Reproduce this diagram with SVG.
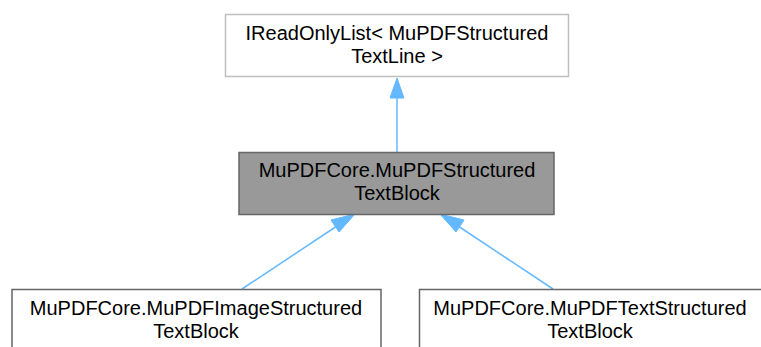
<svg xmlns="http://www.w3.org/2000/svg" width="761" height="347" viewBox="0 0 761 347">
<style>
text{font-family:"Liberation Sans",Arial,sans-serif;font-size:20px;fill:#000;text-anchor:middle}
.n rect{stroke-width:1.5}
.edge{stroke:#63b8ff;stroke-width:1.5;fill:none}
.head{fill:#63b8ff;stroke:#63b8ff;stroke-width:1}
</style>
<rect width="761" height="347" fill="#fff"/>
<g id="edges">
<path class="edge" d="M397,152 L397,96"/>
<path class="head" d="M397,78 L390,98 L404,98 Z"/>
<path class="edge" d="M242,289 L340,224"/>
<path class="head" d="M355,214 L331,220 L339,232 Z"/>
<path class="edge" d="M553,289 L455,224"/>
<path class="head" d="M440,214 L464,220 L456,232 Z"/>
</g>
<g id="node-ireadonlylist" class="n">
<rect x="225.5" y="14.5" width="343" height="62" fill="#fff" stroke="#bfbfbf"/>
<text x="397" y="40">IReadOnlyList&lt; MuPDFStructured</text>
<text x="397" y="63">TextLine &gt;</text>
</g>
<g id="node-block" class="n">
<rect x="239" y="152.5" width="315" height="62" fill="#999" stroke="#666"/>
<text x="397" y="177">MuPDFCore.MuPDFStructured</text>
<text x="397" y="200">TextBlock</text>
</g>
<g id="node-image" class="n">
<rect x="12" y="289.5" width="369" height="70" fill="#fff" stroke="#666"/>
<text x="196" y="315">MuPDFCore.MuPDFImageStructured</text>
<text x="196" y="338">TextBlock</text>
</g>
<g id="node-text" class="n">
<rect x="419.5" y="289.5" width="350" height="70" fill="#fff" stroke="#666"/>
<text x="590" y="315">MuPDFCore.MuPDFTextStructured</text>
<text x="590" y="338">TextBlock</text>
</g>
</svg>
